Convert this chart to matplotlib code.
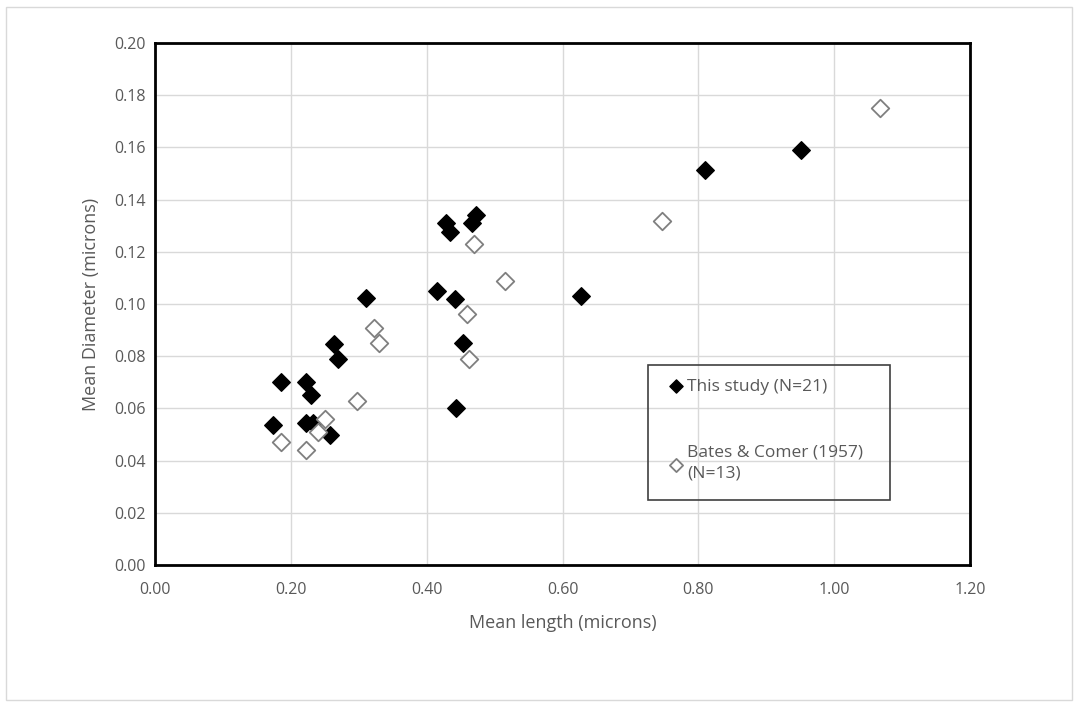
import numpy as np
import matplotlib
matplotlib.use("Agg")
import matplotlib.pyplot as plt
from matplotlib.patches import Rectangle

# This study (N=21)
study_len = [0.173, 0.185, 0.222, 0.222, 0.230, 0.232, 0.258, 0.263, 0.270, 0.310,
             0.415, 0.428, 0.434, 0.442, 0.443, 0.454, 0.467, 0.473, 0.627, 0.810, 0.951]
study_dia = [0.0535, 0.070, 0.070, 0.0545, 0.065, 0.0545, 0.050, 0.0845, 0.079, 0.1025,
             0.105, 0.131, 0.1275, 0.102, 0.060, 0.085, 0.131, 0.134, 0.103, 0.1515, 0.159]

# Bates & Comer (1957) (N=13)
bates_len = [0.185, 0.222, 0.240, 0.250, 0.297, 0.322, 0.330, 0.460, 0.463, 0.470,
             0.516, 0.746, 1.068]
bates_dia = [0.047, 0.044, 0.051, 0.056, 0.063, 0.091, 0.085, 0.096, 0.079, 0.123,
             0.109, 0.132, 0.175]

plt.rcParams['font.family'] = ['Open Sans', 'DejaVu Sans']
txt = '#595959'

fig = plt.figure(figsize=(10.78, 7.06), dpi=100)
fig.patches.append(Rectangle((0.006, 0.008), 0.988, 0.982, transform=fig.transFigure,
                             fill=False, edgecolor='#d9d9d9', linewidth=1))
ax = fig.add_axes([0.1438, 0.1997, 0.7560, 0.7393])

ax.scatter(study_len, study_dia, marker='D', s=80, color='black', zorder=3,
           label='This study (N=21)')
ax.scatter(bates_len, bates_dia, marker='D', s=80, facecolor='white',
           edgecolor='#7f7f7f', linewidth=1.3, zorder=3,
           label='Bates & Comer (1957)\n(N=13)')

ax.set_xlim(0, 1.2)
ax.set_ylim(0, 0.2)
ax.set_xticks(np.arange(0, 1.21, 0.2))
ax.set_yticks(np.arange(0, 0.201, 0.02))
ax.set_xticklabels([f"{v:.2f}" for v in np.arange(0, 1.21, 0.2)])
ax.set_yticklabels([f"{v:.2f}" for v in np.arange(0, 0.201, 0.02)])
ax.tick_params(axis='y', length=0, labelsize=11.5, labelcolor=txt, pad=7)
ax.tick_params(axis='x', length=0, labelsize=11.5, labelcolor=txt, pad=12)
ax.grid(True, color='#d9d9d9', linewidth=1)
ax.set_axisbelow(True)
for s in ax.spines.values():
    s.set_linewidth(2)
    s.set_color('black')

ax.set_xlabel('Mean length (microns)', fontsize=13, color=txt, labelpad=12)
ax.set_ylabel('Mean Diameter (microns)', fontsize=13, color=txt, labelpad=10)

# legend box drawn separately so its size matches the original
ax.add_patch(Rectangle((0.605, 0.1245), 0.297, 0.2585, transform=ax.transAxes,
                       fill=False, edgecolor='#404040', linewidth=1.2, zorder=4))
leg = ax.legend(loc='upper left', bbox_to_anchor=(0.618, 0.374), fontsize=12.5,
                frameon=False, labelspacing=2.9, borderpad=0,
                handletextpad=0.15, handlelength=1.0,
                markerscale=0.75, scatterpoints=1)
for t in leg.get_texts():
    t.set_color(txt)
    t.set_linespacing(1.35)

fig.savefig('out.png', dpi=100)
